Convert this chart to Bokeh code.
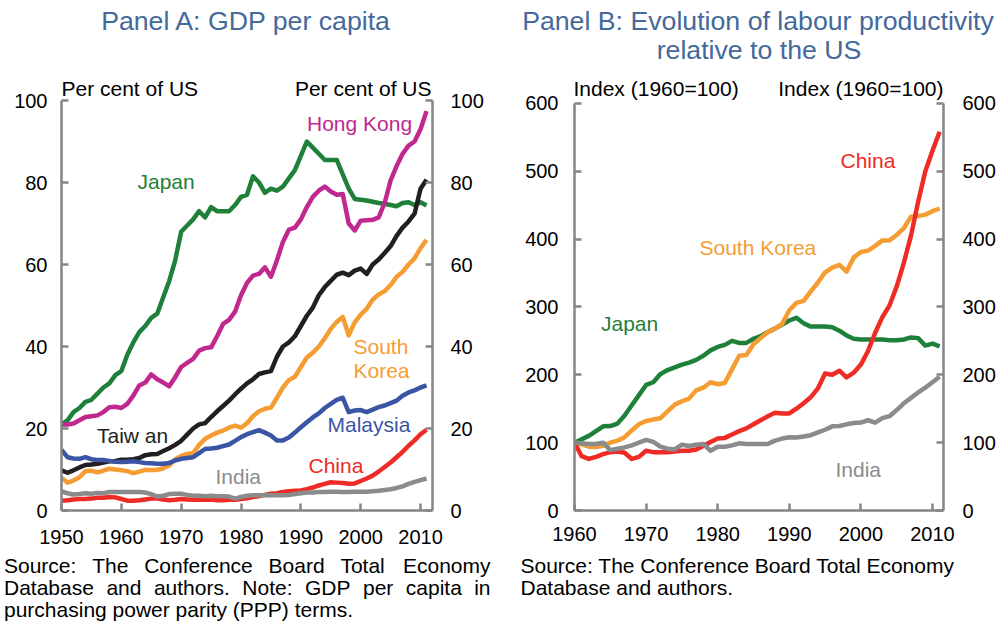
from bokeh.plotting import figure
from bokeh.models import Label, LinearAxis, FixedTicker, Range1d
from bokeh.layouts import row, column
from bokeh.embed import file_html
from bokeh.resources import INLINE

# ---------------- data ----------------
years_a = list(range(1950, 2012))
japan_a = [21, 22, 24, 25, 26.5, 27, 28.5, 30, 31, 33,
           34, 38, 41, 43.5, 45, 47, 48, 52, 56, 61,
           68, 69.5, 71, 73, 71.5, 74, 73, 73, 73, 74.5,
           76.5, 77, 81.5, 80, 77.5, 78.5, 78, 79, 81, 83,
           86.5, 90, 88.5, 87, 85.5, 85.5, 85.5, 82, 78.5, 76,
           75.8, 75.6, 75.3, 75, 74.8, 74.5, 74.2, 75, 75.2, 74.5,
           75.2, 74.4]
hongkong_a = [21, 21, 21.2, 22, 22.8, 23, 23.2, 24, 25.2, 25.3,
              25, 26, 28, 30.5, 31.2, 33.2, 32, 31.2, 30.3, 32.5,
              35, 36, 37, 39, 39.6, 39.8, 42.5, 45.5, 46.5, 48.5,
              52.5, 55.5, 57.3, 57.7, 59.3, 57, 61, 65.5, 68.5, 69,
              71, 74, 76.5, 78, 79, 77.8, 77, 77.2, 70, 68.3,
              70.7, 70.8, 70.9, 71.5, 75, 80.5, 84, 87, 89, 90,
              93, 97.4]
taiwan_a = [9.8, 9.2, 9.8, 10.5, 11.1, 11.2, 11.4, 11.7, 12, 12.1,
            12.4, 12.4, 12.5, 12.8, 13.5, 13.7, 13.8, 14.5, 15.2, 16,
            17, 18.5, 20, 21, 21.3, 22.8, 24.2, 25.5, 26.8, 28.3,
            29.7, 31, 32, 33.3, 33.7, 34, 37.5, 40, 41, 42.5,
            45, 47.5, 49.5, 52.5, 54.5, 56, 57.5, 58, 57.4, 58.5,
            59, 57.7, 60, 61.2, 62.8, 64.5, 67, 69, 70.5, 72.4,
            78.5, 80.7]
skorea_a = [8, 6.8, 7.3, 8.1, 9.6, 9.7, 9.3, 9.7, 10.2, 10,
            9.8, 9.6, 9.1, 9.5, 9.9, 9.9, 9.9, 10.3, 11, 12.5,
            13.3, 13.8, 14, 16, 17.5, 18.3, 19, 19.5, 20.2, 20.7,
            20.2, 21.3, 23, 24.2, 24.8, 25.1, 27.5, 30, 31.8, 32.6,
            35, 37.3, 38.5, 40, 42, 44.3, 46, 47.2, 42.7, 45.9,
            47.8, 49.2, 51.4, 52.7, 53.5, 55, 57, 58.2, 60, 61.5,
            64, 66]
malaysia_a = [14.8, 13, 12.7, 12.6, 13, 12.5, 12.3, 12.3, 12.1, 11.9,
              11.8, 11.9, 12, 11.8, 11.6, 11.5, 11.4, 11.4, 11.6, 12.2,
              12.6, 12.8, 13, 14, 15, 15.1, 15.3, 15.7, 16.1, 17,
              17.9, 18.6, 19.1, 19.6, 19, 18.3, 17.1, 17.1, 17.8, 19,
              20.3, 21.5, 22.7, 23.7, 25, 26, 27, 27.5, 24, 24.4,
              24.5, 24, 24.6, 25.2, 25.6, 26.2, 26.8, 28, 28.8, 29.3,
              30, 30.5]
india_a = [4.7, 4.2, 3.9, 4.0, 4.2, 4.1, 4.3, 4.2, 4.5, 4.5,
           4.5, 4.5, 4.5, 4.5, 4.4, 4.0, 3.4, 3.6, 4.0, 4.1,
           4.1, 3.8, 3.6, 3.6, 3.5, 3.6, 3.5, 3.5, 3.4, 2.9,
           3.3, 3.6, 3.7, 3.7, 3.7, 3.7, 3.7, 3.7, 3.8, 4.0,
           4.2, 4.4, 4.4, 4.5, 4.5, 4.6, 4.6, 4.5, 4.5, 4.6,
           4.6, 4.6, 4.7, 4.8, 5.0, 5.2, 5.5, 5.9, 6.5, 7.0,
           7.4, 7.8]
china_a = [2.4, 2.5, 2.7, 2.8, 2.8, 2.9, 3.1, 3.1, 3.3, 3.2,
           2.8, 2.4, 2.4, 2.5, 2.7, 2.9, 2.9, 2.7, 2.5, 2.6,
           2.8, 2.7, 2.6, 2.7, 2.6, 2.7, 2.5, 2.5, 2.6, 2.6,
           2.8, 3.0, 3.3, 3.5, 3.8, 4.1, 4.2, 4.5, 4.7, 4.8,
           4.9, 5.2, 5.6, 6.1, 6.5, 6.9, 6.8, 6.7, 6.5, 6.6,
           7.2, 7.8, 8.5, 9.5, 10.6, 11.7, 13, 14.3, 15.8, 17.1,
           18.6, 19.7]

years_b = list(range(1960, 2012))
japan_b = [100, 105, 110, 117, 124, 124.5, 128, 140, 155, 170,
           185, 189, 201, 207, 211, 215, 218, 222, 228, 236,
           241, 244, 250, 247, 247, 253, 257, 263, 268, 274,
           280, 284, 276, 271, 271, 271, 270, 265, 258, 253,
           252, 252, 252, 252, 251, 251, 252, 255, 254, 243,
           246, 242]
skorea_b = [100, 97.5, 94, 93.5, 95.5, 100, 103, 108, 118, 127,
            132, 134, 136, 146, 156, 161, 165, 177, 181, 189,
            186, 188, 208, 228, 229, 245, 254, 263, 268, 275,
            295, 306, 309, 323, 336, 351, 358, 362, 352, 373,
            381, 383, 390, 398, 398, 406, 416, 433, 434, 436,
            441, 445]
china_b = [100, 80, 76, 79, 83, 86, 87, 85, 76, 79,
           88, 86, 86, 86, 87, 88, 88, 90, 95, 101,
           106, 107, 112, 117, 121, 127, 133, 139, 144, 143,
           143, 150, 158, 167, 180, 202, 200, 206, 196, 203,
           215, 235, 262, 285, 302, 330, 365, 405, 455, 500,
           530, 558]
india_b = [100, 99, 98, 98, 100, 89, 91, 93, 96, 100,
           104, 101, 94, 91, 90, 97, 95, 97, 98, 88,
           94, 94, 96, 99, 98, 98, 98, 98, 103, 106,
           108, 107.5, 109, 111, 115, 119, 124, 124.5, 127, 129,
           129.5, 133, 129.5, 136, 139, 148, 158, 166, 174, 181,
           189, 197]

xticks_a = [1950, 1960, 1970, 1980, 1990, 2000, 2010]
yticks_a = [0, 20, 40, 60, 80, 100]
xticks_b = [1960, 1970, 1980, 1990, 2000, 2010]
yticks_b = [0, 100, 200, 300, 400, 500, 600]

# ---------------- style ----------------
FONT = "Liberation Sans"
C_JAPAN = "#1F8039"
C_HK = "#C1288F"
C_TAIWAN = "#231F20"
C_SK = "#F59D33"
C_MAL = "#3A55A4"
C_INDIA = "#8A8B8D"
C_CHINA = "#EE2B24"
C_TITLE = "#44699B"
AXIS_C = "#858585"
LW = 4.5

PAGE_W = 1000
HEAD_H = 78          # header strip: page y 0..78
PANEL_H = 474        # panel row:    page y 78..552
FOOT_H = 70          # footer strip: page y 552..622


def nominal_y(py, size_px):
    # alphabetic-baseline labels render ~0.4 em below the given y
    return py - 0.4 * size_px


def style_axis(ax, ticks, bounds=None):
    ax.ticker = FixedTicker(ticks=ticks)
    if bounds is not None:
        ax.bounds = bounds
    ax.axis_line_color = AXIS_C
    ax.axis_line_width = 2.5
    ax.major_tick_line_color = AXIS_C
    ax.major_tick_line_width = 2.5
    ax.major_tick_in = 7
    ax.major_tick_out = 0
    ax.minor_tick_line_color = None
    ax.major_label_text_font = FONT
    ax.major_label_text_font_size = "20px"
    ax.major_label_text_color = "black"


def text_strip(height, y_top):
    """A blank strip whose data coordinates equal page pixels."""
    p = figure(width=PAGE_W, height=height,
               x_range=Range1d(0, PAGE_W), y_range=Range1d(y_top + height, y_top),
               x_axis_type=None, y_axis_type=None,
               output_backend="svg", toolbar_location=None,
               min_border_left=0, min_border_right=0, min_border_top=0, min_border_bottom=0)
    p.outline_line_color = None
    p.background_fill_color = "white"
    p.border_fill_color = "white"

    def text(px, py, s, color="black", size=21, align="left"):
        p.add_layout(Label(x=px, y=nominal_y(py, size), text=s, text_font=FONT,
                           text_font_size=f"{size}px", text_color=color,
                           text_align=align, text_baseline="alphabetic"))
    return p, text


def make_panel(page_x0, width, xr, y_lo, val_top, fl, fr, fb, top_px, xticks, yticks,
               left_sto, right_sto, bottom_sto):
    """Panel whose frame spans page y HEAD_H..fb; value `val_top` sits at page y top_px."""
    ft = HEAD_H
    frame_w = fr - fl
    frame_h = fb - ft
    y_hi = y_lo + (val_top - y_lo) * frame_h / (fb - top_px)
    p = figure(width=width, height=PANEL_H,
               x_range=Range1d(*xr), y_range=Range1d(y_lo, y_hi),
               output_backend="svg", toolbar_location=None,
               min_border_left=fl - page_x0,
               min_border_right=width - (fl - page_x0) - frame_w,
               min_border_top=0,
               min_border_bottom=PANEL_H - frame_h)
    p.outline_line_color = None
    p.grid.visible = False
    p.background_fill_color = "white"
    p.border_fill_color = "white"
    style_axis(p.xaxis[0], xticks)
    style_axis(p.yaxis[0], yticks, (y_lo, val_top))
    p.xaxis[0].major_label_standoff = bottom_sto
    p.yaxis[0].major_label_standoff = left_sto
    rax = LinearAxis()
    style_axis(rax, yticks, (y_lo, val_top))
    rax.major_label_standoff = right_sto
    p.add_layout(rax, "right")

    def text(px, py, s, color="black", size=21, align="left"):
        x = xr[0] + (px - fl) * (xr[1] - xr[0]) / frame_w
        y = y_lo + (fb - nominal_y(py, size)) * (y_hi - y_lo) / frame_h
        p.add_layout(Label(x=x, y=y, text=s, text_font=FONT, text_font_size=f"{size}px",
                           text_color=color, text_align=align, text_baseline="alphabetic"))
    return p, text


# ---------------- header (titles) ----------------
head, th = text_strip(HEAD_H, 0)
th(246, 31.5, "Panel A: GDP per capita", color=C_TITLE, size=26.7, align="center")
th(757.5, 31.5, "Panel B: Evolution of labour productivity", color=C_TITLE, size=26.7, align="center")
th(758.5, 60, "relative to the US", color=C_TITLE, size=26.7, align="center")

# ---------------- Panel A ----------------
pa, ta = make_panel(0, 510, (1950, 2012), 0, 100, 61, 432, 510, 100,
                    xticks_a, yticks_a, 14, 18, 19)
for ys, col in [(japan_a, C_JAPAN), (hongkong_a, C_HK), (taiwan_a, C_TAIWAN),
                (skorea_a, C_SK), (malaysia_a, C_MAL), (china_a, C_CHINA),
                (india_a, C_INDIA)]:
    pa.line(years_a, ys, line_color=col, line_width=LW, line_join="round")

ta(61, 96.5, "Per cent of US")
ta(431, 96.5, "Per cent of US", align="right")
ta(137, 189, "Japan", color=C_JAPAN)
ta(306.5, 131.5, "Hong Kong", color=C_HK)
ta(96.5, 443, "Taiw an", color=C_TAIWAN)
ta(353, 354, "South", color=C_SK)
ta(353, 378, "Korea", color=C_SK)
ta(327, 432.5, "Malaysia", color=C_MAL)
ta(215, 484, "India", color=C_INDIA)
ta(308, 473.5, "China", color=C_CHINA)

# ---------------- Panel B ----------------
pb, tb = make_panel(510, 490, (1960, 2011.54), 0, 600, 574, 943, 513, 103,
                    xticks_b, yticks_b, 16, 19, 16)
for ys, col in [(japan_b, C_JAPAN), (skorea_b, C_SK), (china_b, C_CHINA),
                (india_b, C_INDIA)]:
    pb.line(years_b, ys, line_color=col, line_width=LW, line_join="round")

tb(573, 96, "Index (1960=100)")
tb(943, 96, "Index (1960=100)", align="right")
tb(840, 169, "China", color=C_CHINA)
tb(699, 256.5, "South Korea", color=C_SK)
tb(600.5, 333, "Japan", color=C_JAPAN)
tb(835, 480, "India", color=C_INDIA)

# ---------------- footer (sources) ----------------
foot, tf = text_strip(FOOT_H, HEAD_H + PANEL_H)
# justified lines of the Panel A note: word, left x (last word right-aligned)
src_l1 = [("Source:", 3.5, "left"), ("The", 91.7, "left"), ("Conference", 143.7, "left"),
          ("Board", 268.1, "left"), ("Total", 339.9, "left"), ("Economy", 490, "right")]
src_l2 = [("Database", 3.5, "left"), ("and", 105.9, "left"), ("authors.", 153.4, "left"),
          ("Note:", 241.8, "left"), ("GDP", 304.5, "left"), ("per", 362.5, "left"),
          ("capita", 405.3, "left"), ("in", 490, "right")]
for w, px, al in src_l1:
    tf(px, 573, w, align=al)
for w, px, al in src_l2:
    tf(px, 595, w, align=al)
tf(3.5, 617, "purchasing power parity (PPP) terms.")
tf(520, 573, "Source: The Conference Board Total Economy")
tf(520, 595, "Database and authors.")

layout = column(head, row(pa, pb), foot)
open("out.html", "w").write(file_html(layout, INLINE))
